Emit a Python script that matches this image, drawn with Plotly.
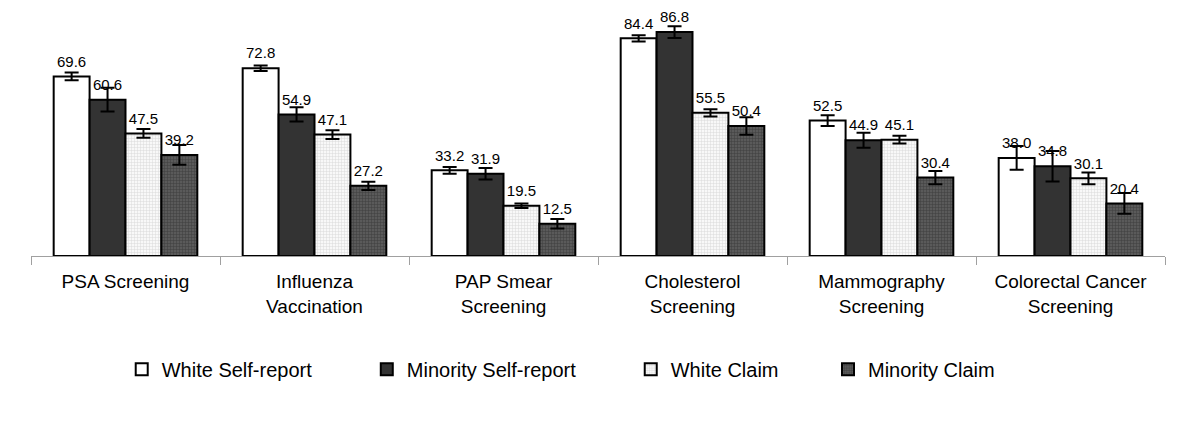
import plotly.graph_objects as go

categories = ["PSA Screening", "Influenza<br>Vaccination", "PAP Smear<br>Screening",
              "Cholesterol<br>Screening", "Mammography<br>Screening", "Colorectal Cancer<br>Screening"]
series_names = ["White Self-report", "Minority Self-report", "White Claim", "Minority Claim"]

white_self = [69.6, 72.8, 33.2, 84.4, 52.5, 38.0]
minority_self = [60.6, 54.9, 31.9, 86.8, 44.9, 34.8]
white_claim = [47.5, 47.1, 19.5, 55.5, 45.1, 30.1]
minority_claim = [39.2, 27.2, 12.5, 50.4, 30.4, 20.4]

err_white_self = [1.5, 1.1, 1.3, 1.2, 2.1, 4.6]
err_minority_self = [4.6, 2.8, 2.2, 2.3, 2.9, 5.9]
err_white_claim = [1.7, 1.7, 0.9, 1.4, 1.5, 2.3]
err_minority_claim = [3.8, 1.6, 1.8, 3.4, 2.6, 4.0]

values = [white_self, minority_self, white_claim, minority_claim]
errors = [err_white_self, err_minority_self, err_white_claim, err_minority_claim]

# trailing non-breaking spaces only widen the gap between legend entries
legend_pad = [9, 9, 8, 0]

styles = [
    dict(color="white", pattern=None),
    dict(color="#333333", pattern=None),
    dict(color="#f4f4f4", pattern=dict(shape="+", fgcolor="#b8b8b8", bgcolor="#f8f8f8", size=3, solidity=0.3)),
    dict(color="#4a4a4a", pattern=dict(shape="+", fgcolor="#1e1e1e", bgcolor="#5a5a5a", size=3, solidity=0.3)),
]

FONT = "Liberation Sans, Arial"

fig = go.Figure()
for name, vals, errs, st, pad in zip(series_names, values, errors, styles, legend_pad):
    marker = dict(color=st["color"], line=dict(color="black", width=2))
    if st["pattern"]:
        marker["pattern"] = st["pattern"]
    fig.add_trace(go.Bar(
        name=name + "\u00a0" * pad, x=categories, y=vals,
        marker=marker,
        error_y=dict(type="data", array=errs, visible=True, color="black", thickness=2, width=7),
    ))

for name, vals in zip(series_names, values):
    fig.add_trace(go.Scatter(
        x=categories, y=vals, mode="markers+text",
        text=[f"{v:.1f}" for v in vals], textposition="top center",
        textfont=dict(family=FONT, size=15, color="black"),
        marker=dict(size=8, opacity=0),
        showlegend=False, hoverinfo="skip", cliponaxis=False,
    ))

fig.update_layout(
    width=1200, height=434,
    barmode="group", bargap=0.24, bargroupgap=0,
    scattermode="group", scattergap=0.24,
    plot_bgcolor="white", paper_bgcolor="white",
    margin=dict(l=23, r=43, t=12, b=186),
    font=dict(family=FONT, color="black"),
    xaxis=dict(showline=True, linecolor="#a0a0a0", linewidth=1, ticks="outside",
               tickson="boundaries", ticklen=8, tickcolor="#a0a0a0",
               tickfont=dict(size=19), ticklabelstandoff=8, showgrid=False),
    yaxis=dict(range=[0, 91.5], visible=False, showgrid=False),
    legend=dict(orientation="h", x=0.080, xanchor="left", y=-0.48, yanchor="middle",
                font=dict(size=20), traceorder="normal"),
)

fig.write_html("out.html")
